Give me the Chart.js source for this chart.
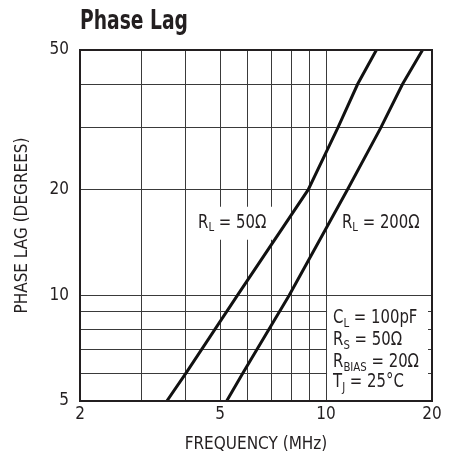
<!DOCTYPE html>
<html>
<head>
<meta charset="utf-8">
<script src="https://cdn.jsdelivr.net/npm/chart.js@4.4.0/dist/chart.umd.min.js"></script>
<style>
  html, body { margin: 0; padding: 0; background: #fff; }
  #wrap { width: 453px; height: 460px; }
</style>
</head>
<body>
<div id="wrap"><canvas id="chart" width="453" height="460"></canvas></div>
<script>
// curve data (MHz, degrees)
const freq50 = [3.53, 4.0, 5.6, 8.9, 10.8, 12.3, 13.9];
const lag50 = [5, 6, 10, 20, 30, 40, 50];
const freq200 = [5.22, 5.8, 7.86, 11.5, 14.3, 16.5, 18.8];
const lag200 = [5, 6, 10, 20, 30, 40, 50];

// grid positions and which ones get a label
const xGrid = [2, 3, 4, 5, 6, 7, 8, 9, 10, 20];
const xLabels = [2, 5, 10, 20];
const yGrid = [5, 6, 7, 8, 9, 10, 20, 30, 40, 50];
const yLabels = [5, 10, 20, 50];

const FONT = '"Liberation Sans Narrow", "Arial Narrow", "DejaVu Sans Condensed", "Liberation Sans", sans-serif';
const INK = '#231f20';
const SQUEEZE = 0.87; // the original type is narrower than anything installed

// draw text made of [text, isSub] pieces, squeezed horizontally
function richText(ctx, parts, x, y, size, subSize) {
  ctx.save();
  ctx.translate(x, y);
  ctx.scale(SQUEEZE, 1);
  let cx = 0;
  parts.forEach(([t, sub]) => {
    ctx.font = (sub ? subSize : size) + 'px ' + FONT;
    ctx.fillText(t, cx, sub ? size * 0.28 : 0);
    cx += ctx.measureText(t).width;
  });
  ctx.restore();
  return cx * SQUEEZE;
}

const notes = {
  id: 'notes',
  beforeDatasetsDraw(chart) {
    const { ctx, chartArea: a, scales: { x, y } } = chart;
    ctx.save();
    // white patches over the grid behind the labels
    ctx.fillStyle = '#fff';
    const lx = x.getPixelForValue(4.33), ly = y.getPixelForValue(16.1);
    ctx.fillRect(lx - 6, ly - 16, 86, 33);
    const bx = x.getPixelForValue(10.47);
    const by = y.getPixelForValue(9.4);
    ctx.fillRect(bx - 6, by, a.right - 4 - (bx - 6), a.bottom - by);
    ctx.restore();
  },
  afterDraw(chart) {
    const { ctx, chartArea: a, scales: { x, y } } = chart;
    ctx.save();
    // frame
    ctx.strokeStyle = INK;
    ctx.lineWidth = 2;
    ctx.strokeRect(a.left, a.top, a.right - a.left, a.bottom - a.top);

    // title
    ctx.fillStyle = INK;
    ctx.textBaseline = 'alphabetic';
    ctx.save();
    ctx.translate(a.left, 29);
    ctx.scale(0.8, 1);
    ctx.font = 'bold 26px ' + FONT;
    ctx.fillText('Phase Lag', 0, 0);
    ctx.restore();

    ctx.textBaseline = 'middle';
    const ly = y.getPixelForValue(16.1);
    richText(ctx, [['R', 0], ['L', 1], [' = 50\u03A9', 0]], x.getPixelForValue(4.33), ly, 19, 13);
    richText(ctx, [['R', 0], ['L', 1], [' = 200\u03A9', 0]], x.getPixelForValue(11.1), ly, 19, 13);

    const bx = x.getPixelForValue(10.47);
    richText(ctx, [['C', 0], ['L', 1], [' = 100pF', 0]], bx, y.getPixelForValue(8.62), 19, 13);
    richText(ctx, [['R', 0], ['S', 1], [' = 50\u03A9', 0]], bx, y.getPixelForValue(7.46), 19, 13);
    richText(ctx, [['R', 0], ['BIAS', 1], [' = 20\u03A9', 0]], bx, y.getPixelForValue(6.46), 19, 13);
    richText(ctx, [['T', 0], ['J', 1], [' = 25\u00B0C', 0]], bx, y.getPixelForValue(5.66), 19, 13);
    ctx.restore();
  }
};

const toPoints = (xs, ys) => xs.map((v, i) => ({ x: v, y: ys[i] }));

new Chart(document.getElementById('chart'), {
  type: 'line',
  data: {
    datasets: [
      { label: 'RL = 50', data: toPoints(freq50, lag50) },
      { label: 'RL = 200', data: toPoints(freq200, lag200) }
    ]
  },
  options: {
    responsive: false,
    animation: false,
    layout: { padding: { top: 50, right: 21, left: 0, bottom: 0 } },
    elements: {
      line: { borderColor: '#111', borderWidth: 3, tension: 0, borderCapStyle: 'butt' },
      point: { radius: 0 }
    },
    plugins: { legend: { display: false }, tooltip: { enabled: false } },
    scales: {
      x: {
        type: 'logarithmic',
        min: 2,
        max: 20,
        afterBuildTicks: (s) => { s.ticks = xGrid.map((v) => ({ value: v })); },
        afterFit: (s) => { s.height = 59; },
        ticks: {
          autoSkip: false,
          maxRotation: 0,
          padding: 3,
          color: INK,
          font: { family: FONT, size: 17 },
          callback: (v) => (xLabels.includes(v) ? String(v) : '')
        },
        grid: { color: '#3a3a3a', lineWidth: 1, drawTicks: false },
        border: { display: false },
        title: {
          display: true,
          text: 'FREQUENCY (MHz)',
          color: INK,
          font: { family: FONT, size: 17 },
          padding: { top: 0, bottom: 5 }
        }
      },
      y: {
        type: 'logarithmic',
        min: 5,
        max: 50,
        afterBuildTicks: (s) => { s.ticks = yGrid.map((v) => ({ value: v })); },
        afterFit: (s) => { s.width = 80; },
        ticks: {
          autoSkip: false,
          padding: 11,
          color: INK,
          font: { family: FONT, size: 17 },
          callback: (v) => (yLabels.includes(v) ? String(v) : '')
        },
        grid: { color: '#3a3a3a', lineWidth: 1, drawTicks: false },
        border: { display: false },
        title: {
          display: true,
          text: 'PHASE LAG (DEGREES)',
          color: INK,
          font: { family: FONT, size: 17 },
          padding: { top: 12, bottom: 0 }
        }
      }
    }
  },
  plugins: [notes]
});
</script>
</body>
</html>
